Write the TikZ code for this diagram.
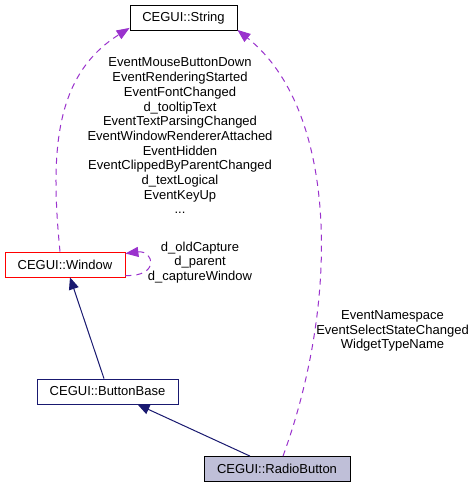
\documentclass[tikz,border=0pt]{standalone}
\usepackage{fontspec}
\setmainfont{Liberation Sans}
\usetikzlibrary{arrows.meta}

\definecolor{inheritblue}{HTML}{191970}
\definecolor{usepurple}{HTML}{9A32CD}
\definecolor{currentfill}{HTML}{BFBFD8}

\tikzset{
	classbox/.style = {draw, thick, fill=white, minimum height=25pt, inner sep=0pt, font=\fontsize{13}{14.7}\selectfont},
	memberlabel/.style = {align=center, inner sep=0pt, font=\fontsize{13}{14.7}\selectfont},
	inherit/.style = {draw=inheritblue, line width=1pt, -{Triangle[length=12pt,width=10pt]}},
	uses/.style = {draw=usepurple, line width=1pt, dash pattern=on 6pt off 5pt, -{Triangle[length=13pt,width=10pt]}}
}

\begin{document}
\begin{tikzpicture}[x=1pt,y=-1pt]
	\useasboundingbox[fill=white] (0,0) rectangle (475,488);

	\node[classbox, minimum width=107pt] (String) at (183.5,18) {CEGUI::String};
	\node[classbox, draw=red, minimum width=120pt] (Window) at (65,264.5) {CEGUI::Window};
	\node[classbox, draw=inheritblue, minimum width=141pt] (ButtonBase) at (107.5,391.5) {CEGUI::ButtonBase};
	\node[classbox, fill=currentfill, minimum width=146pt] (RadioButton) at (277,469) {CEGUI::RadioButton};

	\node[memberlabel] (WindowMembers) at (180,136) {EventMouseButtonDown\\EventRenderingStarted\\EventFontChanged\\d\_tooltipText\\EventTextParsingChanged\\EventWindowRendererAttached\\EventHidden\\EventClippedByParentChanged\\d\_textLogical\\EventKeyUp\\...};
	\node[memberlabel] (SelfMembers) at (200,262.5) {d\_oldCapture\\d\_parent\\d\_captureWindow};
	\node[memberlabel] (RadioMembers) at (392.5,331) {EventNamespace\\EventSelectStateChanged\\WidgetTypeName};

	% inheritance
	\draw[inherit] ([xshift=-3.5pt]ButtonBase.north) -- ([xshift=5pt]Window.south);
	\draw[inherit] ([xshift=-27pt]RadioButton.north) -- ([xshift=30pt]ButtonBase.south);

	% usage
	\draw[uses] ([xshift=-5pt]Window.north) .. controls (50,150) and (55,75) .. ([yshift=3pt]String.south west);
	\draw[uses] ([xshift=6pt]RadioButton.north) .. controls (340,300) and (338,110) .. ([yshift=1pt]String.south east);
	\draw[uses] ([yshift=-11pt]Window.east) .. controls (160,277) and (154,250) .. ([yshift=11pt]Window.east);
\end{tikzpicture}
\end{document}
